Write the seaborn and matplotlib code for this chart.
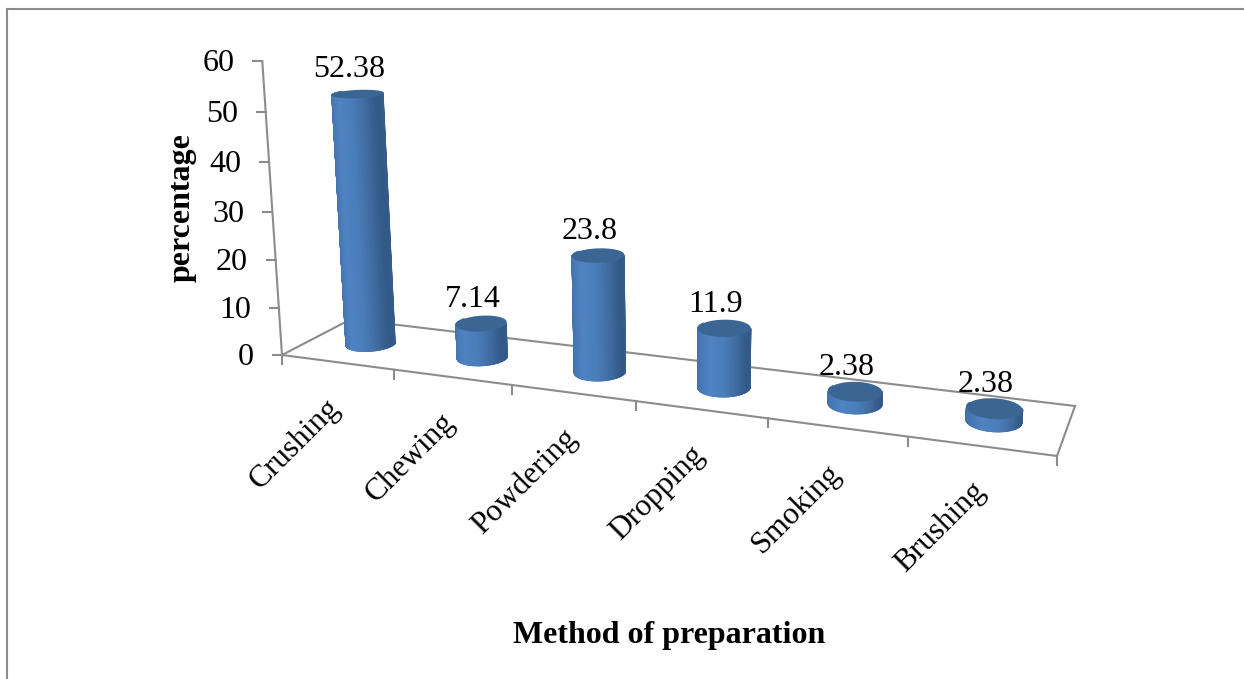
import numpy as np
import pandas as pd
import matplotlib
matplotlib.use("Agg")
import matplotlib.pyplot as plt
import seaborn as sns
from matplotlib.collections import PolyCollection
from matplotlib.colors import LinearSegmentedColormap
from matplotlib.patches import Polygon
from matplotlib.transforms import Affine2D, Transform

methods = ["Crushing", "Chewing", "Powdering", "Dropping", "Smoking", "Brushing"]
percentages = [52.38, 7.14, 23.8, 11.9, 2.38, 2.38]
value_labels = ["52.38", "7.14", "23.8", "11.9", "2.38", "2.38"]
y_ticks = [0, 10, 20, 30, 40, 50, 60]

W, H = 1244, 679
GRAY = "#8c8c8c"
SERIF = "Liberation Serif"
BAR_WIDTH = 0.385
DEPTH_RADIUS = 0.21

sns.set_theme(style="white")
plt.rcParams["font.family"] = [SERIF, "DejaVu Sans"]

# Perspective camera: category (c), depth (d, 0 front to 1 back), value (v) to image pixels.
floor_src = [(-0.5, 0), (5.5, 0), (5.5, 1), (-0.5, 1)]
floor_dst = [(282, 355), (1057, 456), (1075, 406), (350.7, 319.3)]
A, b = [], []
for (c, d), (x, y) in zip(floor_src, floor_dst):
    A.append([c, d, 1, 0, 0, 0, -x * c, -x * d]); b.append(x)
    A.append([0, 0, 0, c, d, 1, -y * c, -y * d]); b.append(y)
h = np.linalg.solve(np.array(A, float), np.array(b, float))
Hm = np.array([[h[0], h[1], h[2]], [h[3], h[4], h[5]], [h[6], h[7], 1.0]])

# Solve the column for the vertical direction from where the value axis lands.
height_refs = [(-0.5, 0, 60, 262, 61), (-0.5, 0, 30, 273, 212),
               (-0.5, 0, 10, 279, 308), (5.5, 0, 10, 1060, 401)]
A, b = [], []
for c, d, v, x, y in height_refs:
    base = Hm @ np.array([c, d, 1.0])
    A.append([v, 0, -x * v]); b.append(x * base[2] - base[0])
    A.append([0, v, -y * v]); b.append(y * base[2] - base[1])
col_v = np.linalg.lstsq(np.array(A, float), np.array(b, float), rcond=None)[0]


def project(c, d, v):
    c, d, v = np.asarray(c, float), np.asarray(d, float), np.asarray(v, float)
    px = Hm[0, 0] * c + Hm[0, 1] * d + col_v[0] * v + Hm[0, 2]
    py = Hm[1, 0] * c + Hm[1, 1] * d + col_v[1] * v + Hm[1, 2]
    pw = Hm[2, 0] * c + Hm[2, 1] * d + col_v[2] * v + Hm[2, 2]
    return px / pw, py / pw


class BarPlane(Transform):
    """Carries (category, value) on the mid-depth plane of the floor into image pixels."""
    input_dims = output_dims = 2

    def transform_non_affine(self, xy):
        xy = np.asarray(xy, float)
        return np.column_stack(project(xy[:, 0], np.full(len(xy), 0.5), xy[:, 1]))


fig = plt.figure(figsize=(W / 100, H / 100), dpi=100, facecolor="white")
ax = fig.add_axes([0, 0, 1, 1])
frame = pd.DataFrame({"method": methods, "percentage": percentages})
sns.barplot(data=frame, x="method", y="percentage", ax=ax, color="#4a7cb8",
            width=BAR_WIDTH, saturation=1, errorbar=None, zorder=5)
ax.set_axis_off()
pixels = Affine2D().scale(1 / W, -1 / H).translate(0, 1) + fig.transFigure

shade = LinearSegmentedColormap.from_list(
    "cylinder", [(0, "#41719f"), (0.15, "#4676b2"), (0.4, "#5083c4"), (0.7, "#4a7cb8"),
                 (0.9, "#406a9e"), (1, "#325a88")])


def line(xs, ys, lw=1.5, z=2):
    ax.plot(xs, ys, color=GRAY, lw=lw, transform=pixels, clip_on=False,
            solid_capstyle="projecting", zorder=z)


# Page border, open on the right
line([7, 7], [679, 9])
line([7, 1244], [9, 9])

# Floor outline and axes
corners = [project(c, d, 0) for c, d in floor_src]
for i, j in [(0, 1), (1, 2), (2, 3), (3, 0)]:
    line([corners[i][0], corners[j][0]], [corners[i][1], corners[j][1]])
x0, y0 = project(-0.5, 0, 0)
xt, yt = project(-0.5, 0, 60)
line([x0, xt], [y0, yt])
for tick in y_ticks:
    tx, ty = project(-0.5, 0, tick)
    line([tx - 9, tx], [ty, ty])
    ax.text(tx - 28, ty + 2.5, str(tick), transform=pixels, ha="right", va="center",
            fontsize=23, color="black", family=SERIF)
for edge in np.arange(-0.5, 6):
    tx, ty = project(edge, 0, 0)
    line([tx, tx], [ty, ty + 9])

# Cylinders: one rectangle from the bar chart per category, rounded off by its two end caps
angles = np.linspace(np.pi - 0.3, 2 * np.pi + 0.3, 145)
ring = np.linspace(0, 2 * np.pi, 121)
for i, patch in enumerate(ax.patches):
    centre = patch.get_x() + patch.get_width() / 2
    radius = patch.get_width() / 2
    top = patch.get_height()
    patch.set_transform(BarPlane() + pixels)
    patch.set_clip_on(False)
    patch.set_linewidth(0)

    cc = centre + radius * np.cos(ring)
    dd = 0.5 + DEPTH_RADIUS * np.sin(ring)
    bx, by = project(cc, dd, 0 * cc)
    ax.add_patch(Polygon(np.column_stack([bx, by]), closed=True, transform=pixels,
                         facecolor="#4a7cb8", lw=0, zorder=4, clip_on=False))

    sc = centre + radius * np.cos(angles)
    sd = 0.5 + DEPTH_RADIUS * np.sin(angles)
    lx, ly = project(sc, sd, 0 * sc)
    ux, uy = project(sc, sd, top + 0 * sc)
    strips, tones = [], []
    for k in range(len(angles) - 1):
        strips.append([(lx[k], ly[k]), (lx[k + 1], ly[k + 1]), (ux[k + 1], uy[k + 1]), (ux[k], uy[k])])
        tones.append(shade((1 + np.cos((angles[k] + angles[k + 1]) / 2)) / 2))
    ax.add_collection(PolyCollection(strips, facecolors=tones, edgecolors=tones, linewidths=0.8,
                                     transform=pixels, zorder=6, clip_on=False), autolim=False)

    cx, cy = project(cc, dd, top + 0 * cc)
    ax.add_patch(Polygon(np.column_stack([cx, cy]), closed=True, transform=pixels,
                         facecolor="#3b6593", lw=0, zorder=7, clip_on=False))

    lx0, ly0 = project(centre, 0.5, top)
    ax.text(lx0 - 9, ly0 - 24, value_labels[i], transform=pixels, ha="center", va="center",
            fontsize=23, color="black", family=SERIF, zorder=9)

    ax0, ay0 = project(centre, 0, 0)
    ax.text(ax0 - 1, ay0 + 41, methods[i], transform=pixels, ha="right", va="center", rotation=45,
            rotation_mode="anchor", fontsize=22.5, color="black", family=SERIF)

ax.text(182, 208, "percentage", transform=pixels, rotation=90, ha="center", va="center",
        fontsize=23, fontweight="bold", color="black", family=SERIF)
ax.text(669, 635, "Method of preparation", transform=pixels, ha="center", va="center",
        fontsize=23, fontweight="bold", color="black", family=SERIF)

fig.savefig("out.png", dpi=100, facecolor="white")
